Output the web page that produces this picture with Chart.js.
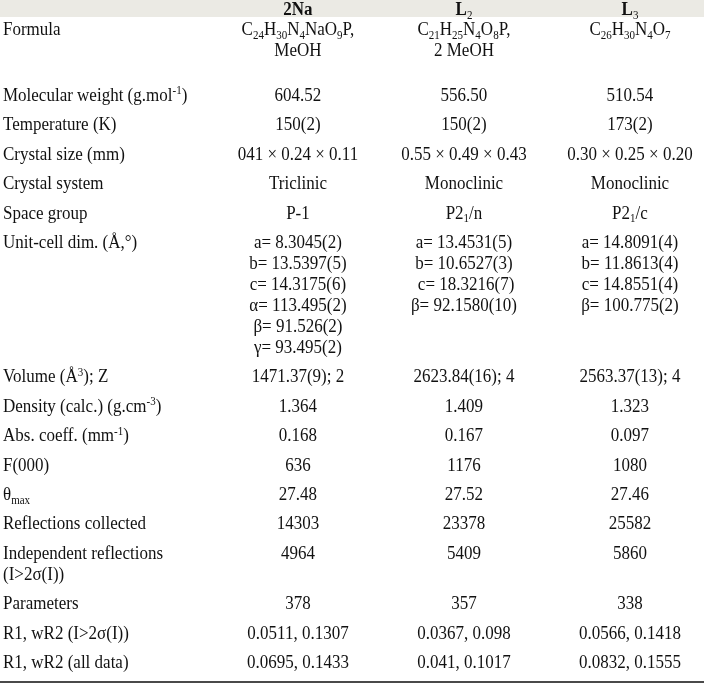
<!DOCTYPE html>
<html><head><meta charset="utf-8">
<script src="https://cdn.jsdelivr.net/npm/chart.js@4"></script>
<style>html,body{margin:0;padding:0;background:#fff}#wrap{width:704px;height:684px;position:relative}</style>
</head><body><div id="wrap"><canvas id="c"></canvas></div>
<script>
// ---------- DATA ----------
const compounds = ['2Na', 'L_{2}', 'L_{3}'];
const rowLabels = ['Formula', 'Molecular weight (g.mol^{-1})', 'Temperature (K)', 'Crystal size (mm)', 'Crystal system', 'Space group', 'Unit-cell dim. (Å,°)', 'Volume (Å^{3}); Z', 'Density (calc.) (g.cm^{-3})', 'Abs. coeff. (mm^{-1})', 'F(000)', 'θ_{max}', 'Reflections collected', ['Independent reflections', '(I>2σ(I))'], 'Parameters', 'R1, wR2 (I>2σ(I))', 'R1, wR2 (all data)'];
const values2Na = [['C_{24}H_{30}N_{4}NaO_{9}P,', 'MeOH'], '604.52', '150(2)', '041 × 0.24 × 0.11', 'Triclinic', 'P-1', ['a= 8.3045(2)', 'b= 13.5397(5)', 'c= 14.3175(6)', 'α= 113.495(2)', 'β= 91.526(2)', 'γ= 93.495(2)'], '1471.37(9); 2', '1.364', '0.168', '636', '27.48', '14303', '4964', '378', '0.0511, 0.1307', '0.0695, 0.1433'];
const valuesL2 = [['C_{21}H_{25}N_{4}O_{8}P,', '2 MeOH'], '556.50', '150(2)', '0.55 × 0.49 × 0.43', 'Monoclinic', 'P2_{1}/n', ['a= 13.4531(5)', 'b= 10.6527(3)', ' c= 18.3216(7)', 'β= 92.1580(10)'], '2623.84(16); 4', '1.409', '0.167', '1176', '27.52', '23378', '5409', '357', '0.0367, 0.098', '0.041, 0.1017'];
const valuesL3 = ['C_{26}H_{30}N_{4}O_{7}', '510.54', '173(2)', '0.30 × 0.25 × 0.20', 'Monoclinic', 'P2_{1}/c', ['a= 14.8091(4)', 'b= 11.8613(4)', 'c= 14.8551(4)', 'β= 100.775(2)'], '2563.37(13); 4', '1.323', '0.097', '1080', '27.46', '25582', '5860', '338', '0.0566, 0.1418', '0.0832, 0.1555'];

// ---------- LAYOUT (line units: 1 = one text line) ----------
const LINE_PX = 21;
const Y_MAX = 684 / LINE_PX;
const HEADER_H = 17 / LINE_PX;
const HEADER_MID = 9 / LINE_PX;
const FIRST_LINE = 29 / LINE_PX;
const ROW_GAP = 0.4;
const EXTRA_GAP = {0: 0.743};
const BOTTOM_RULE_OFFSET = 0.95;
const COL_X = {label: -0.777, c0: 1, c1: 2, c2: 3};
const X_MIN = -0.795, X_MAX = 3.446;
const FONT = '"Liberation Serif", "Times New Roman", serif';
const FONT_PX = 17, SMALL_PX = 11, V_STRETCH = 1.1;

const asLines = v => Array.isArray(v) ? v : [v];
const columns = [rowLabels, values2Na, valuesL2, valuesL3];
const rowStart = [];
let cur = FIRST_LINE;
rowLabels.forEach((_, r) => {
  rowStart.push(cur);
  const n = Math.max(...columns.map(col => asLines(col[r]).length));
  cur += n + ROW_GAP + (EXTRA_GAP[r] || 0);
});
const lastLineY = cur - ROW_GAP - (EXTRA_GAP[rowLabels.length - 1] || 0) - 1;

function cellPoints(col, x) {
  const pts = [];
  col.forEach((v, r) => asLines(v).forEach((t, k) => pts.push({x, y: rowStart[r] + k, text: t})));
  return pts;
}
const xs = [COL_X.label, COL_X.c0, COL_X.c1, COL_X.c2];
const datasets = columns.map((col, i) => ({
  label: i === 0 ? 'labels' : compounds[i - 1],
  data: cellPoints(col, xs[i]),
  align: i === 0 ? 'left' : 'center',
  bold: false,
  pointRadius: 0, showLine: false
}));
datasets.push({
  label: 'header',
  data: compounds.map((c, i) => ({x: xs[i + 1], y: HEADER_MID, text: c})),
  align: 'center', bold: true, pointRadius: 0, showLine: false
});

function parseRich(s) {
  const segs = []; const re = /(_|\^)\{([^}]*)\}/g; let last = 0, m;
  while ((m = re.exec(s))) {
    if (m.index > last) segs.push({t: s.slice(last, m.index), mode: 'n'});
    segs.push({t: m[2], mode: m[1] === '_' ? 'sub' : 'sup'});
    last = re.lastIndex;
  }
  if (last < s.length) segs.push({t: s.slice(last), mode: 'n'});
  return segs;
}
function drawRich(ctx, s, x, y, align, bold) {
  const segs = parseRich(s);
  const fontOf = sg => (bold && sg.mode === 'n' ? 'bold ' : '') + (sg.mode === 'n' ? FONT_PX : SMALL_PX) + 'px ' + FONT;
  let total = 0;
  segs.forEach(sg => { ctx.font = fontOf(sg); sg.w = ctx.measureText(sg.t).width; total += sg.w; });
  let px = align === 'left' ? x : x - total / 2;
  ctx.save();
  ctx.textAlign = 'left'; ctx.textBaseline = 'alphabetic';
  ctx.translate(0, y + 6);
  ctx.scale(1, V_STRETCH);
  segs.forEach(sg => {
    ctx.font = fontOf(sg);
    const dy = sg.mode === 'sub' ? 3.5 : sg.mode === 'sup' ? -6 : 0;
    ctx.fillText(sg.t, px, dy);
    px += sg.w;
  });
  ctx.restore();
}

const tablePlugin = {
  id: 'tablePlugin',
  beforeDatasetsDraw(chart) {
    const {ctx, chartArea, scales: {y}} = chart;
    ctx.save();
    ctx.fillStyle = '#ebeae4';
    const top = y.getPixelForValue(0), bot = y.getPixelForValue(HEADER_H);
    ctx.fillRect(chartArea.left, top, chartArea.right - chartArea.left, bot - top);
    ctx.strokeStyle = '#4a4a4a'; ctx.lineWidth = 2;
    const ly = y.getPixelForValue(lastLineY + BOTTOM_RULE_OFFSET);
    ctx.beginPath(); ctx.moveTo(chartArea.left, ly); ctx.lineTo(chartArea.right, ly); ctx.stroke();
    ctx.restore();
  },
  afterDatasetsDraw(chart) {
    const {ctx} = chart;
    ctx.save(); ctx.fillStyle = '#111';
    chart.data.datasets.forEach((ds, di) => {
      const meta = chart.getDatasetMeta(di);
      meta.data.forEach((el, i) => drawRich(ctx, ds.data[i].text, el.x, el.y, ds.align, ds.bold));
    });
    ctx.restore();
  }
};

new Chart(document.getElementById('c'), {
  type: 'scatter',
  data: {datasets},
  options: {
    responsive: true, maintainAspectRatio: false, animation: false,
    layout: {padding: 0},
    plugins: {legend: {display: false}, tooltip: {enabled: false}},
    scales: {
      x: {type: 'linear', min: X_MIN, max: X_MAX, display: false},
      y: {type: 'linear', min: 0, max: Y_MAX, reverse: true, display: false}
    }
  },
  plugins: [tablePlugin]
});
</script></body></html>
